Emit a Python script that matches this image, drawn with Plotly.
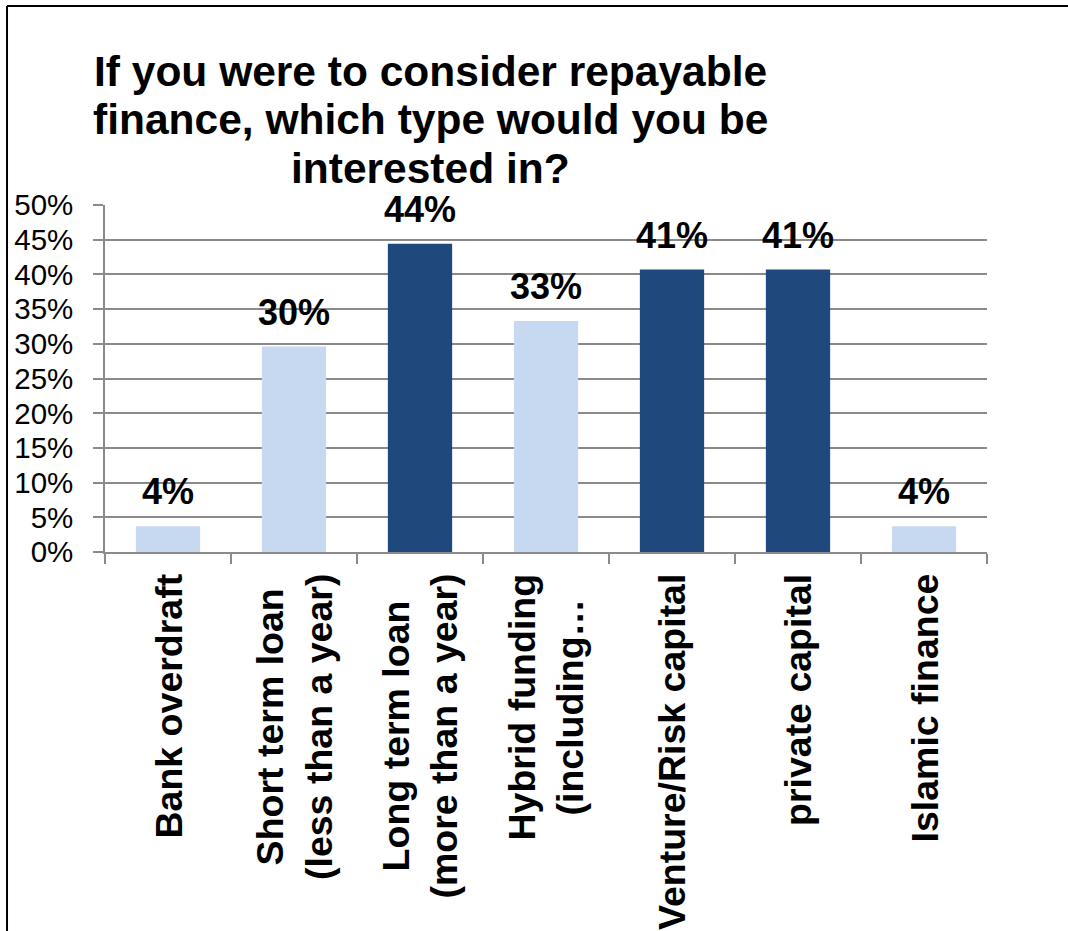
import plotly.graph_objects as go

categories = [
    "Bank overdraft",
    "Short term loan<br>(less than a year)",
    "Long term loan<br>(more than a year)",
    "Hybrid funding<br>(including…",
    "Venture/Risk capital",
    "private capital",
    "Islamic finance",
]
values = [0.037, 0.296, 0.444, 0.333, 0.407, 0.407, 0.037]
bar_colors = ["#C6D9F1", "#C6D9F1", "#1F497D", "#C6D9F1", "#1F497D", "#1F497D", "#C6D9F1"]
title_lines = [
    "If you were to consider repayable",
    "finance, which type would you be",
    "interested in?",
]
y_ticks = [0, 0.05, 0.10, 0.15, 0.20, 0.25, 0.30, 0.35, 0.40, 0.45, 0.50]

FONT = "Arial, 'Liberation Sans', sans-serif"
GRID = "#8A8A8A"

fig = go.Figure()
fig.add_trace(go.Bar(
    x=list(range(len(categories))),
    y=values,
    marker=dict(color=bar_colors, line=dict(width=0)),
    width=0.51,
    hoverinfo="skip",
))

# data labels
for i, v in enumerate(values):
    fig.add_annotation(
        x=i, y=v, xref="x", yref="y",
        text=f"<b>{round(v * 100):d}%</b>",
        showarrow=False, yanchor="bottom", yshift=12,
        font=dict(family=FONT, size=36, color="#000000"),
    )

# category labels (rotated, centred lines as in the original)
for i, c in enumerate(categories):
    fig.add_annotation(
        x=i, y=0, xref="x", yref="paper",
        text=f"<b>{c}</b>",
        showarrow=False, textangle=-90, yanchor="top", xanchor="center",
        align="center", yshift=-20,
        font=dict(family=FONT, size=37.5, color="#000000"),
    )

# title lines
title_y = [1.3833, 1.245, 1.1066]
for t, yy in zip(title_lines, title_y):
    fig.add_annotation(
        x=0.3685, y=yy, xref="paper", yref="paper",
        text=f"<b>{t}</b>", showarrow=False,
        xanchor="center", yanchor="middle",
        font=dict(family=FONT, size=42.5, color="#000000"),
    )

# outer frame (left and top edges visible in the original crop)
fig.add_shape(type="line", xref="paper", yref="paper",
              x0=-0.1111, x1=-0.1111, y0=1.5735, y1=-1.2,
              line=dict(color="#000000", width=2))
fig.add_shape(type="line", xref="paper", yref="paper",
              x0=-0.1111, x1=1.2, y0=1.5735, y1=1.5735,
              line=dict(color="#000000", width=2))

fig.update_layout(
    width=1068, height=931,
    margin=dict(l=105, r=81, t=205, b=379, pad=0),
    paper_bgcolor="#FFFFFF", plot_bgcolor="#FFFFFF",
    showlegend=False,
    bargap=0.49,
    font=dict(family=FONT, color="#000000"),
)
fig.update_xaxes(
    type="linear", range=[-0.5, len(categories) - 0.5],
    tickvals=[i - 0.5 for i in range(len(categories) + 1)],
    showticklabels=False,
    ticks="outside", ticklen=10, tickwidth=1.5, tickcolor=GRID,
    showline=True, linecolor=GRID, linewidth=1.5,
    showgrid=False, zeroline=False, fixedrange=True,
)
fig.update_yaxes(
    range=[0, 0.5], tickvals=y_ticks, tickformat=".0%",
    tickfont=dict(family=FONT, size=29.5, color="#000000"),
    ticks="outside", ticklen=10, tickwidth=1.5, tickcolor=GRID,
    ticklabelstandoff=14,
    showline=True, linecolor=GRID, linewidth=1.5,
    showgrid=True, gridcolor=GRID, gridwidth=1.5,
    zeroline=False, fixedrange=True,
)

fig.write_html("out.html")
